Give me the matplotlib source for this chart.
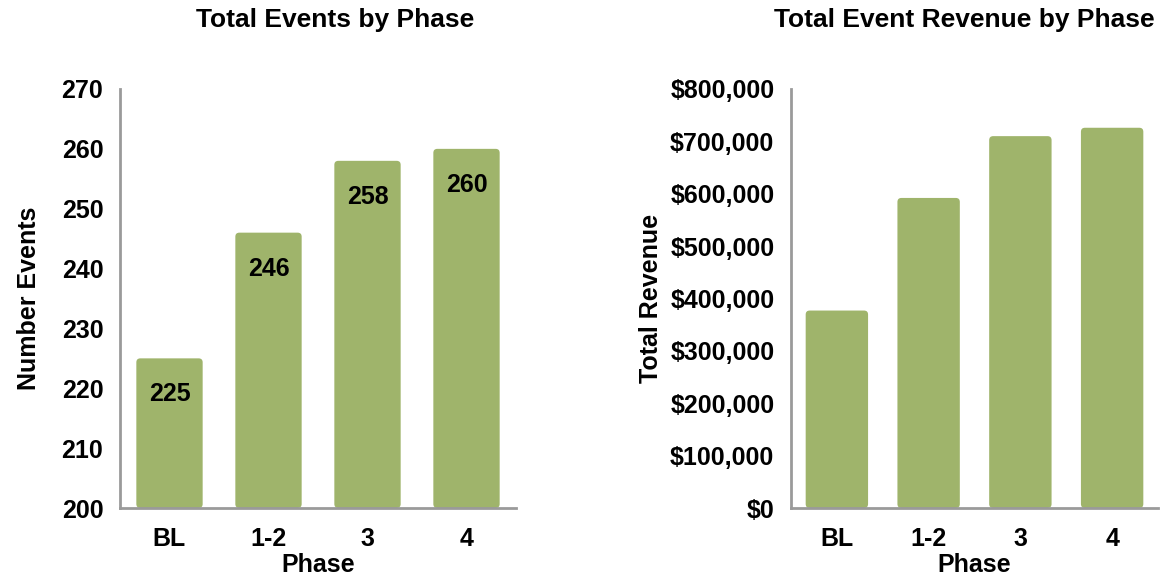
import matplotlib
matplotlib.use("Agg")
import matplotlib.pyplot as plt
from matplotlib.patches import FancyBboxPatch
from matplotlib.ticker import FuncFormatter

phases = ["BL", "1-2", "3", "4"]
event_counts = [225, 246, 258, 260]
event_revenue = [377000, 592000, 710000, 726000]

event_ticks = [200, 210, 220, 230, 240, 250, 260, 270]
revenue_ticks = [0, 100000, 200000, 300000, 400000, 500000, 600000, 700000, 800000]

BAR_COLOR = "#9fb46b"
SPINE_COLOR = "#9a9a9a"
FONT = ["Liberation Sans", "DejaVu Sans"]
FS = 18

plt.rcParams["font.family"] = FONT

W, H = 1160, 575
fig = plt.figure(figsize=(W / 100, H / 100), dpi=100)
ax1 = fig.add_axes([120 / W, 1 - 508 / H, 396 / W, 419 / H])
ax2 = fig.add_axes([791 / W, 1 - 508 / H, 367 / W, 419 / H])


def style_axis(ax):
    for side in ("top", "right"):
        ax.spines[side].set_visible(False)
    for side in ("left", "bottom"):
        ax.spines[side].set_color(SPINE_COLOR)
        ax.spines[side].set_linewidth(2)
    ax.tick_params(axis="y", length=0, labelsize=FS, pad=12)
    ax.tick_params(axis="x", length=0, labelsize=FS, pad=13.5)
    for lbl in ax.get_xticklabels() + ax.get_yticklabels():
        lbl.set_fontweight("bold")
    ax.set_xlim(-0.5, 3.5)


def round_bars(ax, bars, radius_px=4):
    # swap plain rectangles for versions with softly rounded corners
    fig.canvas.draw()
    bbox = ax.get_window_extent()
    x0, x1 = ax.get_xlim()
    y0, y1 = ax.get_ylim()
    px_x = bbox.width / (x1 - x0)
    px_y = bbox.height / (y1 - y0)
    for rect in bars:
        patch = FancyBboxPatch(
            (rect.get_x(), rect.get_y()), rect.get_width(), rect.get_height(),
            boxstyle=f"round,pad=0,rounding_size={radius_px / px_x}",
            mutation_aspect=px_x / px_y,
            facecolor=rect.get_facecolor(), edgecolor="none",
            clip_on=True, zorder=rect.get_zorder())
        ax.add_patch(patch)
        rect.set_visible(False)


x = list(range(len(phases)))

# Left panel: event counts
bars1 = ax1.bar(x, [v - 200 for v in event_counts], bottom=200, width=0.67,
                color=BAR_COLOR)
ax1.set_ylim(200, 270)
ax1.set_yticks(event_ticks)
ax1.set_xticks(x)
ax1.set_xticklabels(phases)
style_axis(ax1)
for xi, v in zip(x, event_counts):
    ax1.annotate(f"{v}", xy=(xi, v), xytext=(0, -26), textcoords="offset points",
                 ha="center", va="center", fontsize=FS, fontweight="bold")
ax1.set_xlabel("Phase", fontsize=FS, fontweight="bold", labelpad=1.5)
ax1.set_ylabel("Number Events", fontsize=FS, fontweight="bold", labelpad=15)

# Right panel: event revenue
bars2 = ax2.bar(x, event_revenue, width=0.68, color=BAR_COLOR)
ax2.set_ylim(0, 800000)
ax2.set_yticks(revenue_ticks)
ax2.yaxis.set_major_formatter(FuncFormatter(lambda v, _: f"${v:,.0f}"))
ax2.set_xticks(x)
ax2.set_xticklabels(phases)
style_axis(ax2)
ax2.set_xlabel("Phase", fontsize=FS, fontweight="bold", labelpad=1.5)
ax2.set_ylabel("Total Revenue", fontsize=FS, fontweight="bold", labelpad=5)

# Panel titles
fig.text(335 / W, 1 - 20 / H, "Total Events by Phase", fontsize=19,
         fontweight="bold", ha="center", va="center")
fig.text(1155 / W, 1 - 20 / H, "Total Event Revenue by Phase", fontsize=19,
         fontweight="bold", ha="right", va="center")

round_bars(ax1, bars1)
round_bars(ax2, bars2)

fig.savefig("out.png", dpi=100)
